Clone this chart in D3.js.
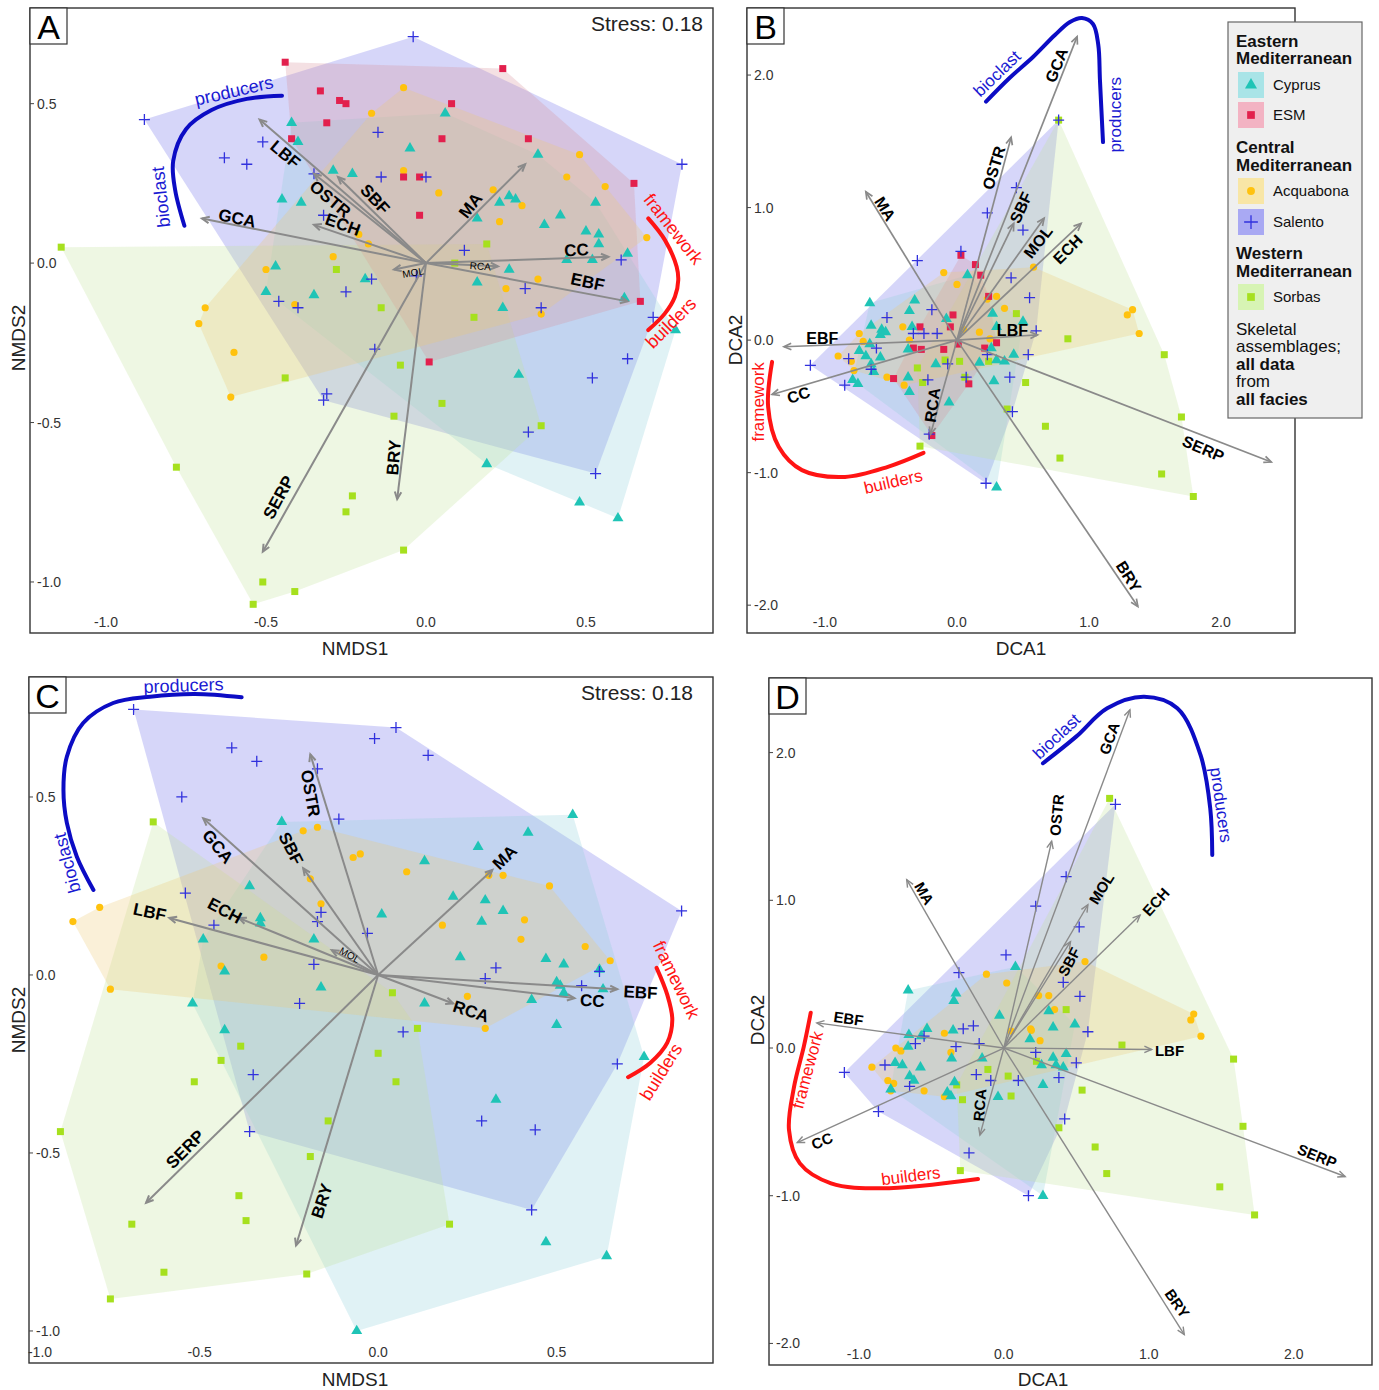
<!DOCTYPE html>
<html><head><meta charset="utf-8">
<script src="https://cdn.jsdelivr.net/npm/d3@7"></script>
<style>body{margin:0;background:#fff;} svg{display:block;font-family:"Liberation Sans",Arial,sans-serif;}</style>
</head><body><svg id="c" width="1379" height="1390"></svg>
<script>
// ---------------- DATA ----------------
const A_cyprus=[[0.06,0.47],[-0.42,0.44],[-0.40,0.38],[-0.05,0.36],[0.35,0.34],[-0.29,0.29],[-0.23,0.28],[-0.45,0.20],[-0.39,0.19],[0.26,0.21],[0.23,0.19],[0.28,0.20],[0.53,0.19],[0.42,0.15],[0.16,0.14],[0.37,0.12],[0.50,0.10],[0.54,0.09],[0.54,0.06],[0.63,0.03],[0.44,0.01],[0.52,0.01],[0.26,-0.02],[0.16,-0.06],[-0.47,-0.01],[-0.19,-0.05],[-0.50,-0.09],[-0.35,-0.10],[0.24,-0.14],[0.62,-0.11],[0.78,-0.21],[0.29,-0.35],[0.19,-0.63],[0.48,-0.75],[0.60,-0.80]];
const A_esm=[[-0.44,0.63],[0.24,0.61],[-0.33,0.54],[-0.27,0.51],[-0.25,0.50],[0.08,0.50],[-0.31,0.44],[0.05,0.39],[0.32,0.39],[-0.42,0.39],[-0.07,0.27],[-0.02,0.27],[0.65,0.25],[-0.02,0.15],[0.67,-0.12],[0.01,-0.31]];
const A_acquabona=[[-0.07,0.55],[-0.17,0.47],[0.48,0.34],[0.44,0.27],[0.56,0.24],[-0.07,0.29],[0.04,0.22],[0.21,0.23],[0.30,0.18],[0.23,0.13],[-0.21,0.09],[-0.18,0.06],[0.69,0.08],[-0.29,0.02],[-0.50,-0.02],[0.35,-0.05],[0.25,-0.08],[0.36,-0.16],[-0.41,-0.13],[-0.69,-0.14],[-0.71,-0.19],[-0.60,-0.28],[-0.61,-0.42]];
const A_salento=[[-0.04,0.71],[-0.88,0.45],[-0.51,0.38],[-0.63,0.33],[-0.56,0.31],[-0.15,0.41],[-0.35,0.28],[-0.14,0.27],[0.00,0.27],[0.80,0.31],[0.12,0.04],[-0.03,-0.04],[-0.17,-0.05],[-0.25,-0.09],[-0.46,-0.12],[-0.40,-0.14],[0.31,-0.08],[0.36,-0.14],[0.61,0.01],[0.71,-0.17],[-0.32,0.15],[-0.16,-0.27],[0.63,-0.30],[0.52,-0.36],[-0.31,-0.41],[-0.32,-0.43],[0.32,-0.53],[0.53,-0.66]];
const A_sorbas=[[-1.14,0.05],[0.19,0.06],[0.09,0.00],[-0.28,-0.02],[-0.14,-0.14],[0.15,-0.17],[-0.08,-0.32],[-0.44,-0.36],[0.05,-0.44],[-0.10,-0.48],[0.36,-0.51],[-0.78,-0.64],[-0.23,-0.73],[-0.25,-0.78],[-0.07,-0.90],[-0.51,-1.00],[-0.41,-1.03],[-0.54,-1.07]];
const A_vectors=[["LBF",-0.52,0.45],["SBF",-0.275,0.27],["OSTR",-0.35,0.28],["GCA",-0.70,0.14],["ECH",-0.35,0.12],["MA",0.31,0.31],["CC",0.57,0.02],["EBF",0.63,-0.12],["MOL",-0.10,-0.02],["RCA",0.225,-0.01],["SERP",-0.51,-0.905],["BRY",-0.09,-0.74]];

const B_cyprus=[[-0.66,0.28],[-0.32,0.30],[0.08,0.49],[-0.65,0.11],[-0.36,0.22],[-0.57,0.08],[-0.08,0.16],[0.27,0.20],[0.50,0.14],[-0.34,0.10],[0.30,0.10],[-0.58,0.04],[-0.54,0.06],[-0.66,-0.03],[-0.74,-0.08],[-0.69,-0.12],[-0.58,-0.13],[-0.65,-0.18],[-0.63,-0.24],[-0.79,-0.30],[-0.75,-0.33],[-0.37,-0.28],[-0.36,-0.39],[-0.16,-0.18],[-0.06,-0.47],[0.17,-0.17],[0.26,-0.06],[0.30,-0.15],[0.36,-0.16],[0.43,-0.11],[0.28,-0.31],[0.30,-1.11],[-0.37,-0.07]];
const B_esm=[[0.03,0.64],[0.14,0.57],[0.18,0.49],[0.24,0.33],[-0.03,0.19],[-0.28,0.10],[-0.05,0.10],[-0.33,-0.06],[-0.27,-0.07],[-0.10,-0.07],[0.01,-0.03],[0.21,-0.06],[0.30,-0.02],[-0.48,-0.29],[0.09,-0.33],[-0.19,-0.72]];
const B_acquabona=[[-0.10,0.51],[0.00,0.42],[0.30,0.33],[0.36,0.24],[0.23,0.31],[0.58,0.55],[-0.41,0.10],[0.05,0.08],[0.17,0.06],[1.29,0.19],[1.33,0.23],[1.38,0.05],[-0.74,0.05],[-0.71,-0.01],[-0.90,-0.12],[-0.80,-0.16],[-0.78,-0.23],[-0.53,-0.28],[-0.40,-0.34],[-0.36,0.00],[0.25,0.01]];
const B_salento=[[0.77,1.66],[0.45,1.15],[0.23,0.96],[0.50,0.83],[0.03,0.67],[-0.30,0.60],[0.41,0.47],[0.55,0.32],[-0.19,0.23],[-0.53,0.17],[0.60,0.07],[-0.33,0.05],[-0.25,0.05],[-0.15,0.05],[-0.61,-0.06],[-0.82,-0.14],[-1.11,-0.19],[-0.65,-0.22],[-0.85,-0.34],[-0.22,-0.30],[-0.07,-0.18],[0.23,-0.11],[0.54,-0.11],[0.07,-0.28],[0.40,-0.28],[0.42,-0.54],[-0.21,-0.71],[0.22,-1.08]];
const B_sorbas=[[0.77,1.66],[0.45,0.20],[0.84,0.01],[1.57,-0.11],[0.02,-0.16],[-0.09,-0.15],[0.24,-0.16],[-0.30,-0.21],[-0.26,-0.32],[0.52,-0.32],[0.06,-0.28],[0.38,-0.52],[0.67,-0.65],[0.78,-0.89],[1.70,-0.58],[1.55,-1.01],[1.79,-1.18],[-0.28,-0.80]];
const B_vectors=[["GCA",0.91,2.29],["OSTR",0.41,1.53],["MA",-0.69,1.12],["SBF",0.43,0.88],["MOL",0.66,0.92],["ECH",0.94,0.88],["LBF",0.61,0.04],["EBF",-1.31,-0.05],["CC",-1.40,-0.41],["RCA",-0.20,-0.71],["SERP",2.38,-0.92],["BRY",1.37,-2.01]];

const C_cyprus=[[0.545,0.45],[-0.27,0.43],[0.42,0.40],[0.28,0.36],[0.13,0.32],[-0.36,0.25],[0.21,0.22],[0.30,0.21],[0.35,0.18],[0.29,0.15],[0.01,0.17],[-0.33,0.16],[-0.33,0.145],[-0.49,0.10],[-0.18,0.10],[0.23,0.05],[-0.43,0.01],[0.47,0.045],[0.52,0.03],[0.62,0.015],[-0.16,-0.035],[0.50,-0.02],[0.51,-0.03],[0.63,-0.04],[0.52,-0.05],[0.43,-0.07],[0.13,-0.08],[-0.52,-0.08],[0.50,-0.14],[-0.43,-0.155],[0.745,-0.23],[0.33,-0.35],[0.47,-0.75],[0.64,-0.79],[-0.06,-1.00]];
const C_esm=[];
const C_acquabona=[[-0.21,0.405],[-0.17,0.415],[-0.07,0.33],[-0.05,0.34],[0.08,0.29],[-0.19,0.27],[0.31,0.28],[0.35,0.28],[0.48,0.25],[-0.16,0.20],[-0.78,0.19],[-0.855,0.15],[0.18,0.14],[0.41,0.155],[0.40,0.10],[0.58,0.08],[0.65,0.04],[-0.32,0.05],[-0.44,0.025],[-0.75,-0.04],[0.25,-0.06],[0.30,-0.15]];
const C_salento=[[-0.685,0.746],[0.05,0.695],[-0.01,0.664],[-0.41,0.638],[-0.34,0.60],[0.14,0.617],[-0.17,0.579],[-0.55,0.50],[-0.11,0.438],[-0.54,0.23],[-0.46,0.14],[-0.16,0.176],[-0.17,0.15],[-0.03,0.117],[-0.18,0.03],[0.33,0.02],[0.30,-0.01],[0.57,-0.03],[0.62,0.01],[0.85,0.18],[-0.22,-0.08],[0.07,-0.16],[-0.35,-0.28],[-0.36,-0.44],[0.29,-0.41],[0.44,-0.435],[0.67,-0.25],[0.43,-0.66]];
const C_sorbas=[[-0.63,0.43],[0.04,-0.05],[0.11,-0.15],[-0.385,-0.20],[-0.44,-0.24],[-0.515,-0.30],[0.00,-0.22],[0.05,-0.30],[-0.14,-0.41],[-0.89,-0.44],[-0.19,-0.51],[-0.39,-0.62],[-0.69,-0.70],[-0.37,-0.69],[0.20,-0.70],[-0.60,-0.835],[-0.20,-0.84],[-0.75,-0.91]];
const C_vectors=[["OSTR",-0.19,0.62],["GCA",-0.49,0.44],["SBF",-0.21,0.30],["LBF",-0.585,0.16],["ECH",-0.39,0.16],["MOL",-0.13,0.07],["MA",0.32,0.295],["EBF",0.67,-0.04],["CC",0.55,-0.065],["RCA",0.21,-0.08],["SERP",-0.65,-0.64],["BRY",-0.23,-0.76]];

const D_cyprus=[[0.08,0.55],[-0.66,0.39],[-0.33,0.37],[-0.345,0.32],[-0.03,0.22],[0.31,0.25],[0.34,0.14],[0.49,0.16],[-0.53,0.13],[-0.35,0.12],[-0.655,0.09],[-0.57,0.08],[-0.66,0.01],[-0.75,-0.10],[-0.70,-0.115],[-0.575,-0.13],[-0.65,-0.19],[-0.62,-0.22],[-0.78,-0.28],[-0.36,-0.07],[-0.15,-0.07],[-0.39,-0.30],[-0.365,-0.325],[-0.34,-0.23],[-0.04,-0.33],[0.18,0.06],[0.26,-0.115],[0.27,-0.25],[0.34,-0.065],[0.36,-0.115],[0.41,-0.13],[0.43,-0.04],[0.27,-1.00]];
const D_esm=[];
const D_acquabona=[[-0.12,0.50],[0.02,0.44],[0.56,0.585],[0.24,0.355],[0.31,0.355],[0.35,0.26],[0.185,0.13],[0.05,0.115],[1.29,0.19],[1.31,0.23],[-0.41,0.10],[1.36,0.08],[0.19,0.12],[0.25,0.05],[-0.365,-0.03],[-0.71,-0.02],[-0.745,0.00],[-0.91,-0.13],[-0.80,-0.22],[-0.76,-0.24],[-0.78,-0.29],[-0.55,-0.29],[-0.41,-0.33]];
const D_salento=[[0.77,1.65],[0.43,1.16],[0.22,0.96],[0.52,0.82],[0.015,0.63],[-0.31,0.51],[0.41,0.445],[0.525,0.35],[-0.21,0.15],[-0.28,0.13],[0.58,0.11],[-0.33,0.01],[-0.17,0.03],[-0.61,0.03],[-0.82,-0.115],[-1.10,-0.165],[-0.65,-0.26],[-0.19,-0.18],[-0.09,-0.22],[0.10,-0.22],[0.22,-0.03],[0.38,-0.20],[0.50,-0.10],[-0.865,-0.43],[0.42,-0.48],[-0.24,-0.71],[0.17,-1.00],[-0.55,0.08]];
const D_sorbas=[[0.73,1.69],[0.43,0.26],[0.815,0.02],[1.585,-0.075],[-0.11,-0.145],[0.03,-0.19],[0.225,-0.09],[-0.325,-0.25],[-0.285,-0.35],[0.05,-0.325],[0.54,-0.285],[0.38,-0.54],[1.65,-0.53],[0.63,-0.67],[0.71,-0.85],[1.49,-0.94],[1.73,-1.13],[-0.30,-0.83]];
const D_vectors=[["GCA",0.87,2.29],["OSTR",0.33,1.40],["MA",-0.67,1.14],["MOL",0.58,0.97],["SBF",0.46,0.72],["ECH",0.94,0.90],["EBF",-1.29,0.17],["LBF",1.02,-0.01],["CC",-1.425,-0.64],["RCA",-0.165,-0.59],["SERP",2.355,-0.87],["BRY",1.245,-1.94]];

const NMDS_ticks=[-1.0,-0.5,0.0,0.5];
const DCA_ticks=[-2.0,-1.0,0.0,1.0,2.0];
const GROUP_NAMES=["Cyprus","ESM","Acquabona","Salento","Sorbas"];

// ---------------- LAYOUT (label anchors in data units, rotation in degrees) ----------------
const A_labels={LBF:[-0.44,0.34,40],OSTR:[-0.30,0.20,40],SBF:[-0.16,0.20,47],ECH:[-0.26,0.12,20],GCA:[-0.59,0.14,12],MA:[0.14,0.18,-52],CC:[0.47,0.04,-3],EBF:[0.505,-0.06,12],MOL:[-0.04,-0.03,-10,1],RCA:[0.17,-0.01,4,1],SERP:[-0.46,-0.735,-62],BRY:[-0.10,-0.61,-85]};
const B_labels={GCA:[0.755,2.075,-68],OSTR:[0.28,1.30,-73],MA:[-0.545,0.99,58],SBF:[0.485,1.0,-65],MOL:[0.615,0.74,-52],ECH:[0.84,0.685,-45],LBF:[0.42,0.07,0],EBF:[-1.02,0.015,0],CC:[-1.20,-0.415,-18],RCA:[-0.185,-0.49,-82],SERP:[1.865,-0.82,23],BRY:[1.30,-1.785,58]};
const C_labels={OSTR:[-0.19,0.51,80],GCA:[-0.45,0.36,50],SBF:[-0.245,0.355,63],LBF:[-0.64,0.176,12],ECH:[-0.43,0.18,28],MOL:[-0.08,0.056,30,1],MA:[0.355,0.33,-45],EBF:[0.735,-0.05,3],CC:[0.60,-0.073,3],RCA:[0.26,-0.103,18],SERP:[-0.54,-0.49,-45],BRY:[-0.157,-0.635,-72]};
const D_labels={GCA:[0.727,2.097,-70],OSTR:[0.364,1.578,-85],MA:[-0.548,1.047,60],MOL:[0.673,1.081,-58],SBF:[0.45,0.584,-62],ECH:[1.048,0.99,-48],EBF:[-1.071,0.20,8],LBF:[1.143,-0.014,0],CC:[-1.254,-0.628,-22],RCA:[-0.167,-0.386,-85],SERP:[2.162,-0.729,22],BRY:[1.197,-1.728,55]};

const A_deco={blue:[[-0.755,0.117],[-0.784,0.23],[-0.79,0.32],[-0.75,0.42],[-0.67,0.48],[-0.56,0.515],[-0.45,0.525]],
  red:[[0.6947,0.1401],[0.7469,0.0721],[0.7834,-0.0116],[0.7884,-0.0533],[0.778,-0.1056],[0.7469,-0.1577],[0.6947,-0.21]],
  texts:[["producers",-0.60,0.54,-13,"b"],["bioclast",-0.828,0.207,-96,"b"],["framework",0.773,0.1066,52,"r"],["builders",0.7656,-0.188,-45,"r"]]};
const B_deco={blue:[[0.22,1.80],[0.40,1.98],[0.576,2.136],[0.74,2.30],[0.856,2.40],[0.947,2.43],[1.03,2.385],[1.07,2.23],[1.083,1.96],[1.106,1.494]],
  red:[[-1.40,-0.164],[-1.43,-0.503],[-1.35,-0.805],[-1.174,-0.981],[-0.848,-1.032],[-0.523,-0.956],[-0.253,-0.851]],
  texts:[["bioclast",0.305,2.01,-44,"b"],["producers",1.20,1.70,-90,"b"],["framework",-1.50,-0.466,-90,"r"],["builders",-0.483,-1.07,-13,"r"]]};
const C_deco={blue:[[-0.3824,0.78],[-0.5126,0.7893],[-0.6387,0.7817],[-0.7423,0.764],[-0.8263,0.7079],[-0.872,0.6132],[-0.8815,0.5197],[-0.872,0.427],[-0.844,0.3323],[-0.7975,0.2388]],
  red:[[0.78,0.02],[0.81,-0.056],[0.824,-0.126],[0.81,-0.19],[0.762,-0.247],[0.70,-0.287]],
  texts:[["producers",-0.545,0.813,-2,"b"],["bioclast",-0.871,0.3146,-105,"b"],["framework",0.835,-0.014,64,"r"],["builders",0.793,-0.272,-58,"r"]]};
const D_deco={blue:[[0.27,1.928],[0.499,2.108],[0.713,2.30],[0.968,2.378],[1.197,2.30],[1.357,1.984],[1.424,1.623],[1.438,1.307]],
  red:[[-1.332,0.239],[-1.38,0.009],[-1.447,-0.262],[-1.482,-0.555],[-1.407,-0.781],[-1.192,-0.916],[-0.843,-0.95],[-0.178,-0.887]],
  texts:[["bioclast",0.365,2.108,-43,"b"],["producers",1.497,1.645,82,"b"],["framework",-1.353,-0.149,-75,"r"],["builders",-0.642,-0.867,-7,"r"]]};

const STYLE={
  Cyprus:{pt:"#1fc4b6",hull:"#8fd0da",sym:"tri",sw:"#a9e4e7"},
  ESM:{pt:"#e2204d",hull:"#d8909a",sym:"sq",sw:"#f3b3c3"},
  Acquabona:{pt:"#ffc20e",hull:"#ecc872",sym:"dot",sw:"#f8e6a6"},
  Salento:{pt:"#3131dd",hull:"#6a6ae8",sym:"plus",sw:"#a9a9f3"},
  Sorbas:{pt:"#a6e01e",hull:"#c2e49a",sym:"sq",sw:"#d7f4b4"}
};
const HULL_ORDER=["Salento","Cyprus","Sorbas","ESM","Acquabona"];
const BLUE="#0c0cc4", RED="#ff1414";

const PANELS=[
 {id:"A",box:[30,8,713,633],xdom:[-1.2375,0.897],ydom:[-1.16,0.80],ticks:NMDS_ticks,xl:"NMDS1",yl:"NMDS2",xlp:[355,655],ylp:[18,338],stress:[703,31],
  data:{Cyprus:A_cyprus,ESM:A_esm,Acquabona:A_acquabona,Salento:A_salento,Sorbas:A_sorbas},vec:A_vectors,lab:A_labels,deco:A_deco,fs:17,aw:2,decofs:18},
 {id:"B",box:[747,8,1295,633],xdom:[-1.59,2.56],ydom:[-2.21,2.506],ticks:DCA_ticks,xl:"DCA1",yl:"DCA2",xlp:[1021,655],ylp:[735,340],stress:null,
  data:{Cyprus:B_cyprus,ESM:B_esm,Acquabona:B_acquabona,Salento:B_salento,Sorbas:B_sorbas},vec:B_vectors,lab:B_labels,deco:B_deco,fs:16,aw:1.7,decofs:17},
 {id:"C",box:[29,677,713,1363],xdom:[-0.978,0.938],ydom:[-1.09,0.837],ticks:NMDS_ticks,xl:"NMDS1",yl:"NMDS2",xlp:[355,1386],ylp:[18,1020],stress:[693,700],
  data:{Cyprus:C_cyprus,ESM:C_esm,Acquabona:C_acquabona,Salento:C_salento,Sorbas:C_sorbas},vec:C_vectors,lab:C_labels,deco:C_deco,fs:17,aw:2,decofs:18},
 {id:"D",box:[769,678,1372,1365],xdom:[-1.62,2.54],ydom:[-2.146,2.505],ticks:DCA_ticks,xl:"DCA1",yl:"DCA2",xlp:[1043,1386],ylp:[757,1020],stress:null,
  data:{Cyprus:D_cyprus,ESM:D_esm,Acquabona:D_acquabona,Salento:D_salento,Sorbas:D_sorbas},vec:D_vectors,lab:D_labels,deco:D_deco,fs:15,aw:1.4,decofs:17}
];

const svg=d3.select("#c");
const fmt=v=>v.toFixed(1);

function drawSym(g,sym,color,cx,cy,k){
  k=k||1;
  if(sym==="tri"){g.append("path").attr("d",d3.symbol(d3.symbolTriangle,52*k*k)()).attr("transform",`translate(${cx},${cy})`).attr("fill",color);}
  else if(sym==="sq"){const s=7*k;g.append("rect").attr("x",cx-s/2).attr("y",cy-s/2).attr("width",s).attr("height",s).attr("fill",color);}
  else if(sym==="dot"){g.append("circle").attr("cx",cx).attr("cy",cy).attr("r",3.6*k).attr("fill",color);}
  else {const s=5.5*k;g.append("path").attr("d",`M${cx-s},${cy}H${cx+s}M${cx},${cy-s}V${cy+s}`).attr("stroke",color).attr("stroke-width",1.3).attr("fill","none");}
}

PANELS.forEach(P=>{
  const [x0,y0,x1,y1]=P.box;
  const x=d3.scaleLinear().domain(P.xdom).range([x0,x1]);
  const y=d3.scaleLinear().domain(P.ydom).range([y1,y0]);
  const g=svg.append("g");
  const cid="clip"+P.id;
  svg.append("defs").append("clipPath").attr("id",cid).append("rect").attr("x",x0).attr("y",y0).attr("width",x1-x0).attr("height",y1-y0);
  const pl=g.append("g").attr("clip-path",`url(#${cid})`);
  HULL_ORDER.forEach(k=>{
    const pts=P.data[k]; if(pts.length<3) return;
    const h=d3.polygonHull(pts.map(p=>[x(p[0]),y(p[1])]));
    pl.append("path").attr("d","M"+h.join("L")+"Z").attr("fill",STYLE[k].hull).attr("fill-opacity",0.28).attr("stroke","none");
  });
  ["Sorbas","Acquabona","ESM","Cyprus","Salento"].forEach(k=>{
    P.data[k].forEach(p=>drawSym(pl,STYLE[k].sym,STYLE[k].pt,x(p[0]),y(p[1])));
  });
  const ox=x(0),oy=y(0);
  P.vec.forEach(([n,vx,vy])=>{
    const tx=x(vx),ty=y(vy);
    const a=Math.atan2(ty-oy,tx-ox),L=8,w=0.42;
    pl.append("line").attr("x1",ox).attr("y1",oy).attr("x2",tx).attr("y2",ty).attr("stroke","#8a8a8a").attr("stroke-width",P.aw);
    pl.append("path").attr("d",`M${tx-L*Math.cos(a-w)},${ty-L*Math.sin(a-w)}L${tx},${ty}L${tx-L*Math.cos(a+w)},${ty-L*Math.sin(a+w)}`)
      .attr("stroke","#8a8a8a").attr("stroke-width",P.aw).attr("fill","none");
  });
  P.vec.forEach(([n])=>{
    const l=P.lab[n];
    pl.append("text").attr("transform",`translate(${x(l[0])},${y(l[1])}) rotate(${l[2]})`)
      .attr("text-anchor","middle").attr("dominant-baseline","central")
      .attr("font-weight",l[3]?"normal":"bold").attr("font-size",l[3]?10:P.fs).attr("fill","#000").text(n);
  });
  const line=d3.line().x(d=>x(d[0])).y(d=>y(d[1])).curve(d3.curveCatmullRom.alpha(0.5));
  pl.append("path").attr("d",line(P.deco.blue)).attr("stroke",BLUE).attr("stroke-width",4).attr("fill","none").attr("stroke-linecap","round");
  pl.append("path").attr("d",line(P.deco.red)).attr("stroke",RED).attr("stroke-width",4).attr("fill","none").attr("stroke-linecap","round");
  P.deco.texts.forEach(([t,tx,ty,r,c])=>{
    pl.append("text").attr("transform",`translate(${x(tx)},${y(ty)}) rotate(${r})`).attr("text-anchor","middle").attr("dominant-baseline","central")
      .attr("font-size",P.decofs).attr("fill",c==="b"?"#1a1ad2":RED).text(t);
  });
  g.append("rect").attr("x",x0).attr("y",y0).attr("width",x1-x0).attr("height",y1-y0).attr("fill","none").attr("stroke","#333").attr("stroke-width",1.4);
  P.ticks.forEach(t=>{
    const ty=y(t);
    if(ty>y0+5&&ty<y1-5){
      g.append("line").attr("x1",x0).attr("x2",x0+4).attr("y1",ty).attr("y2",ty).attr("stroke","#444");
      g.append("text").attr("x",x0+7).attr("y",ty).attr("dominant-baseline","central").attr("font-size",14).attr("fill","#333").text(fmt(t));
    }
    let tx=x(t);
    if(tx>x0-15&&tx<x1-10){
      tx=Math.max(tx,x0+11);
      g.append("text").attr("x",tx).attr("y",y1-11).attr("text-anchor","middle").attr("dominant-baseline","central").attr("font-size",14).attr("fill","#333").text(fmt(t));
    }
  });
  g.append("text").attr("x",P.xlp[0]).attr("y",P.xlp[1]).attr("text-anchor","middle").attr("font-size",19).attr("fill","#222").text(P.xl);
  g.append("text").attr("transform",`translate(${P.ylp[0]},${P.ylp[1]}) rotate(-90)`).attr("text-anchor","middle").attr("dominant-baseline","central").attr("font-size",19).attr("fill","#222").text(P.yl);
  g.append("rect").attr("x",x0).attr("y",y0).attr("width",37).attr("height",36).attr("fill","#fff").attr("stroke","#333").attr("stroke-width",1.2);
  g.append("text").attr("x",x0+18.5).attr("y",y0+19).attr("text-anchor","middle").attr("dominant-baseline","central").attr("font-size",34).attr("fill","#000").text(P.id);
  if(P.stress) g.append("text").attr("x",P.stress[0]).attr("y",P.stress[1]).attr("text-anchor","end").attr("font-size",21).attr("fill","#222").text("Stress: 0.18");
});

// ---------------- LEGEND ----------------
const leg=svg.append("g");
leg.append("rect").attr("x",1228).attr("y",22).attr("width",134).attr("height",396).attr("fill","#efefef").attr("stroke","#666").attr("stroke-width",1.2);
const LEG_HEAD=[["Eastern",47],["Mediterranean",64],["Central",153],["Mediterranean",171],["Western",259],["Mediterranean",277]];
LEG_HEAD.forEach(([t,yy])=>leg.append("text").attr("x",1236).attr("y",yy).attr("font-size",17).attr("font-weight","bold").attr("fill","#111").text(t));
const LEG_ROWS=[["Cyprus",72],["ESM",102],["Acquabona",178],["Salento",209],["Sorbas",284]];
LEG_ROWS.forEach(([k,yy],i)=>{
  leg.append("rect").attr("x",1238).attr("y",yy).attr("width",26).attr("height",26).attr("fill",STYLE[GROUP_NAMES[i]].sw);
  drawSym(leg,STYLE[k].sym,STYLE[k].pt,1251,yy+13,k==="Salento"?1.25:1.1);
  leg.append("text").attr("x",1273).attr("y",yy+18).attr("font-size",15).attr("fill","#111").text(k);
});
const LEG_NOTE=[["Skeletal",335,false],["assemblages;",352,false],["all data",370,true],["from",387,false],["all facies",405,true]];
LEG_NOTE.forEach(([t,yy,b])=>leg.append("text").attr("x",1236).attr("y",yy).attr("font-size",17).attr("font-weight",b?"bold":"normal").attr("fill","#111").text(t));
</script></body></html>
